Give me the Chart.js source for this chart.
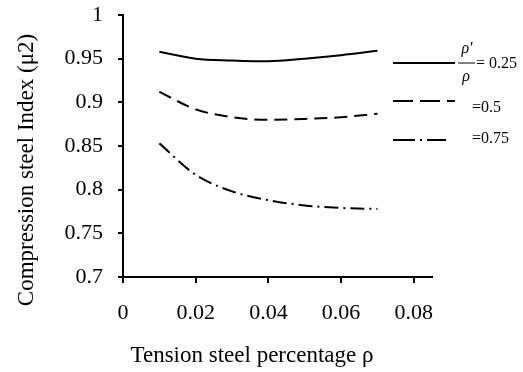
<!DOCTYPE html>
<html lang="en">
<head>
    <meta charset="UTF-8">
    <title>Compression steel index</title>
    <script src="https://cdn.jsdelivr.net/npm/chart.js"></script>
    <style>
        html, body { margin: 0; padding: 0; background: #fff; }
        .wrap { width: 523px; height: 372px; }
    </style>
</head>
<body>
    <div class="wrap"><canvas id="chart" width="523" height="372"></canvas></div>

    <script>
        // tension steel percentage values
        const rho = [0.01, 0.02, 0.03, 0.04, 0.05, 0.06, 0.07];
        // compression steel index for each rho'/rho ratio
        const mu025 = [0.958, 0.950, 0.948, 0.947, 0.950, 0.954, 0.959];
        const mu050 = [0.912, 0.892, 0.883, 0.880, 0.881, 0.883, 0.887];
        const mu075 = [0.853, 0.817, 0.798, 0.788, 0.782, 0.779, 0.778];
        const ratioLabels = ['= 0.25', '=0.5', '=0.75'];
        const xTicks = [0, 0.02, 0.04, 0.06, 0.08];
        const yTicks = [0.7, 0.75, 0.8, 0.85, 0.9, 0.95, 1];
        const xTitle = 'Tension steel percentage \u03C1';
        const yTitle = 'Compression steel Index (\u03BC2)';

        const serif = "'Liberation Serif', 'Times New Roman', serif";

        const toPoints = (vals) => rho.map((x, i) => ({ x: x, y: vals[i] }));

        const dashes = [[], [13, 7], [14, 5, 2, 5]];
        const legendDashes = [[], [20, 7], [22, 5, 2, 5]];

        // legend and axis titles drawn by hand, placed like the original figure
        const sideLegend = {
            id: 'sideLegend',
            afterDraw(chart) {
                const ctx = chart.ctx;
                const rows = [63, 101, 140];
                const lens = [62, 62, 53];
                ctx.save();
                ctx.strokeStyle = '#000';
                ctx.lineWidth = 2;
                rows.forEach((y, i) => {
                    ctx.setLineDash(legendDashes[i]);
                    ctx.beginPath();
                    ctx.moveTo(393, y);
                    ctx.lineTo(393 + lens[i], y);
                    ctx.stroke();
                });
                ctx.setLineDash([]);
                ctx.fillStyle = '#000';
                ctx.textBaseline = 'middle';
                ctx.font = '16px ' + serif;
                ctx.fillText(ratioLabels[0], 476, 64);
                ctx.fillText(ratioLabels[1], 472, 108);
                ctx.fillText(ratioLabels[2], 472, 139);
                // rho'/rho fraction
                ctx.font = 'italic 16px ' + serif;
                ctx.textAlign = 'center';
                ctx.fillText('\u03C1\u2032', 467, 49);
                ctx.fillText('\u03C1', 466, 77);
                ctx.lineWidth = 1;
                ctx.beginPath();
                ctx.moveTo(458, 63);
                ctx.lineTo(475, 63);
                ctx.stroke();

                // axis titles
                ctx.font = '23px ' + serif;
                ctx.fillText(xTitle, 252, 356);
                ctx.translate(27, 170);
                ctx.rotate(-Math.PI / 2);
                ctx.fillText(yTitle, 0, 0);
                ctx.restore();
            }
        };

        new Chart(document.getElementById('chart'), {
            type: 'line',
            data: {
                datasets: [
                    { label: ratioLabels[0], data: toPoints(mu025), borderDash: dashes[0] },
                    { label: ratioLabels[1], data: toPoints(mu050), borderDash: dashes[1] },
                    { label: ratioLabels[2], data: toPoints(mu075), borderDash: dashes[2] }
                ].map(d => Object.assign(d, {
                    borderColor: '#000',
                    borderWidth: 2,
                    pointRadius: 0,
                    fill: false,
                    cubicInterpolationMode: 'monotone'
                }))
            },
            options: {
                responsive: false,
                animation: false,
                layout: { padding: { top: 15, right: 91, left: 0, bottom: 0 } },
                plugins: {
                    legend: { display: false },
                    tooltip: { enabled: false }
                },
                scales: {
                    x: {
                        type: 'linear',
                        min: 0,
                        max: 0.085,
                        afterBuildTicks: (s) => { s.ticks = xTicks.map(v => ({ value: v })); },
                        afterFit: (s) => { s.height = 95; s.paddingLeft = 0; s.paddingRight = 0; },
                        border: { color: '#000', width: 2 },
                        grid: { drawOnChartArea: false, color: '#000', lineWidth: 2, tickLength: 6 },
                        ticks: {
                            color: '#000',
                            padding: 17,
                            maxRotation: 0,
                            font: { family: serif, size: 22 },
                            callback: (v) => String(v)
                        }
                    },
                    y: {
                        min: 0.7,
                        max: 1,
                        afterBuildTicks: (s) => { s.ticks = yTicks.map(v => ({ value: v })); },
                        afterFit: (s) => { s.width = 123; s.paddingTop = 0; s.paddingBottom = 0; },
                        border: { color: '#000', width: 2 },
                        grid: { drawOnChartArea: false, color: '#000', lineWidth: 2, tickLength: 5 },
                        ticks: {
                            color: '#000',
                            padding: 15,
                            font: { family: serif, size: 22 },
                            callback: (v) => String(v)
                        }
                    }
                }
            },
            plugins: [sideLegend]
        });
    </script>
</body>
</html>
